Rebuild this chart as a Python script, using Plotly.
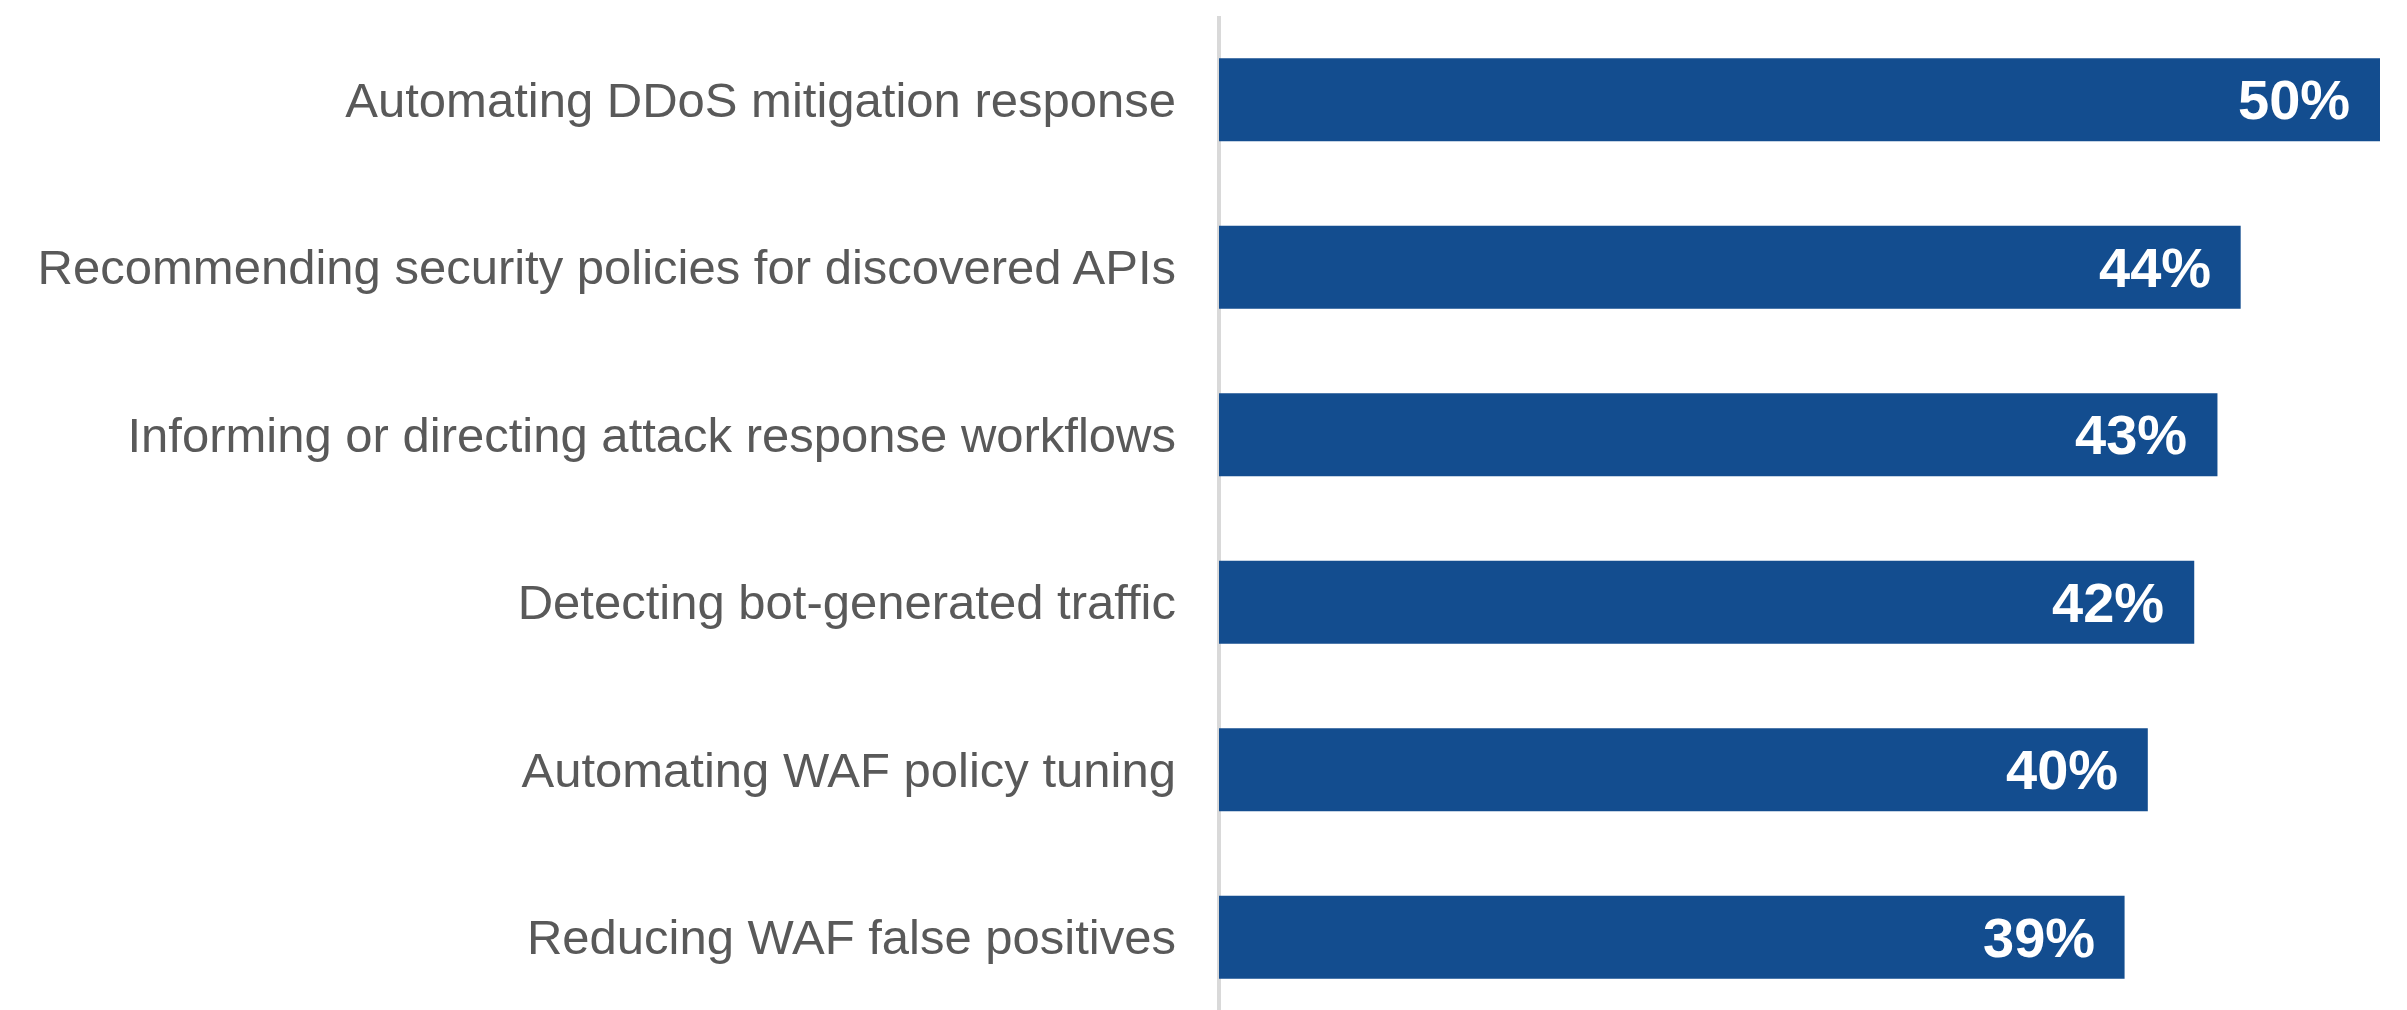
import plotly.graph_objects as go

categories = [
    "Automating DDoS mitigation response",
    "Recommending security policies for discovered APIs",
    "Informing or directing attack response workflows",
    "Detecting bot-generated traffic",
    "Automating WAF policy tuning",
    "Reducing WAF false positives",
]
values = [50, 44, 43, 42, 40, 39]
value_labels = [f"{v}%" for v in values]

BAR_COLOR = "#134D8F"

fig = go.Figure()
fig.add_trace(go.Bar(
    x=values, y=categories, orientation="h",
    marker=dict(color=BAR_COLOR, line_width=0),
    width=0.495, hoverinfo="skip",
))

for cat, v, lab in zip(categories, values, value_labels):
    fig.add_annotation(
        x=v, y=cat, text=lab, showarrow=False, xanchor="right", xshift=-28,
        font=dict(family="Liberation Sans, Arial, sans-serif", size=56, color="white", weight="bold"),
    )

# page body has an 8px default margin, so the figure is sized to fit the window
fig.update_layout(
    width=2399, height=1002,
    margin=dict(l=1211, r=27, t=8, b=0),
    paper_bgcolor="white", plot_bgcolor="white",
    showlegend=False,
    font=dict(family="Liberation Sans, Arial, sans-serif"),
    xaxis=dict(
        range=[0, 50], fixedrange=True,
        showticklabels=False, showgrid=False, ticks="", showline=False,
        zeroline=True, zerolinecolor="#D9D9D9", zerolinewidth=4,
    ),
    yaxis=dict(
        range=[5.434, -0.5],
        showline=False, showgrid=False, zeroline=False, ticks="",
        ticklabelstandoff=42,
        tickfont=dict(size=49, color="#595959", family="Liberation Sans, Arial, sans-serif"),
    ),
)

fig.write_html("out.html")
